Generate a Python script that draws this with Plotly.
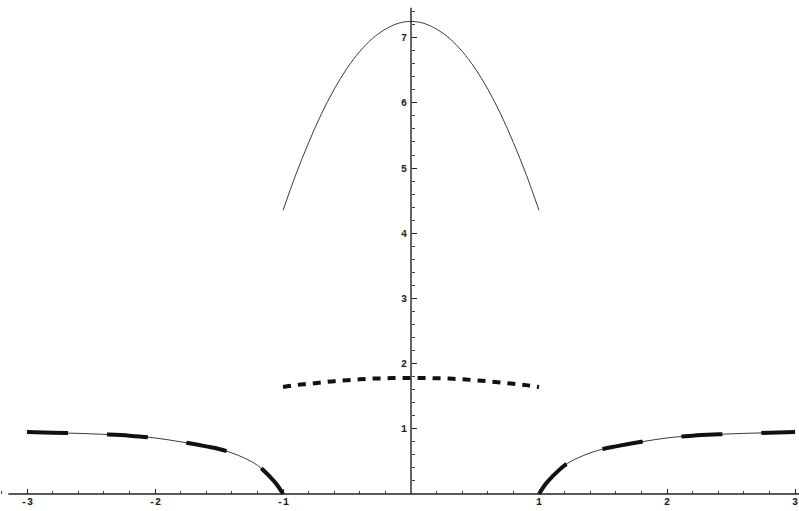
import plotly.graph_objects as go

# Inner branch on [-1, 1]: upper solid curve and lower dashed curve
x_inner = [-1.0, -0.9, -0.8, -0.7, -0.6, -0.5, -0.4, -0.3, -0.2, -0.1, 0.0,
           0.1, 0.2, 0.3, 0.4, 0.5, 0.6, 0.7, 0.8, 0.9, 1.0]
y_upper = [4.35, 4.90, 5.39, 5.83, 6.21, 6.53, 6.79, 6.99, 7.13, 7.22, 7.25,
           7.22, 7.13, 6.99, 6.79, 6.53, 6.21, 5.83, 5.39, 4.90, 4.35]
y_lower = [1.64, 1.67, 1.69, 1.71, 1.73, 1.745, 1.76, 1.77, 1.775, 1.78, 1.78,
           1.78, 1.775, 1.77, 1.76, 1.745, 1.73, 1.71, 1.69, 1.67, 1.64]

# Outer branches for |x| >= 1
x_right = [1.0, 1.05, 1.1, 1.2, 1.3, 1.4, 1.5, 1.6, 1.8, 2.0, 2.2, 2.4, 2.6, 2.8, 3.0]
y_right = [0.0, 0.15, 0.26, 0.44, 0.55, 0.63, 0.69, 0.73, 0.80, 0.86, 0.895,
           0.915, 0.93, 0.94, 0.95]
x_left = [-3.0, -2.8, -2.6, -2.4, -2.2, -2.0, -1.8, -1.6, -1.5, -1.4, -1.3,
          -1.2, -1.1, -1.05, -1.0]
y_left = [0.95, 0.94, 0.93, 0.915, 0.895, 0.86, 0.80, 0.73, 0.69, 0.63, 0.55,
          0.44, 0.26, 0.15, 0.0]

x_ticks = [-3, -2, -1, 1, 2, 3]
x_tick_text = ["-3", "-2", "-1", "1", "2", "3"]
y_ticks = [1, 2, 3, 4, 5, 6, 7]
y_tick_text = ["1", "2", "3", "4", "5", "6", "7"]

# Minor tick positions every 0.2, skipping the labelled integers
x_minor = [round(-3.2 + 0.2 * i, 1) for i in range(33) if abs(round(-3.2 + 0.2 * i, 1)) % 1 != 0]
y_minor = [round(0.2 * i, 1) for i in range(1, 38) if round(0.2 * i, 1) % 1 != 0]

thin = dict(color="#3a3a3a", width=1)
thick_long = dict(color="#111111", width=4, dash="41px,39px")
thick_short = dict(color="#111111", width=4, dash="8px,7px")

fig = go.Figure()
fig.add_trace(go.Scatter(x=x_inner, y=y_upper, mode="lines",
                         line=dict(shape="spline", **thin)))
fig.add_trace(go.Scatter(x=x_inner, y=y_lower, mode="lines",
                         line=dict(shape="spline", **thick_short)))
for xs, ys in ((x_left, y_left), (x_right, y_right)):
    fig.add_trace(go.Scatter(x=xs, y=ys, mode="lines",
                             line=dict(shape="spline", **thin)))
    fig.add_trace(go.Scatter(x=xs, y=ys, mode="lines",
                             line=dict(shape="spline", **thick_long)))

# Axis lines crossing at the origin
fig.add_shape(type="line", x0=-3.146, x1=3.031, y0=0, y1=0,
              line=dict(color="#222", width=1.4), layer="above")
fig.add_shape(type="line", x0=0, x1=0, y0=0, y1=7.46,
              line=dict(color="#222", width=1.4), layer="above")

tick_font = dict(family="Liberation Mono", size=10, color="#222", weight="bold")

fig.update_layout(
    width=799, height=511,
    margin=dict(l=0, r=0, t=0, b=0),
    paper_bgcolor="white", plot_bgcolor="white",
    showlegend=False,
    xaxis=dict(range=[-3.211, 3.031], anchor="free", position=17 / 511,
               showgrid=False, zeroline=False, showline=False,
               tickmode="array", tickvals=x_ticks, ticktext=x_tick_text,
               ticks="inside", ticklen=5, tickwidth=1.2, tickcolor="#222",
               tickfont=tick_font,
               minor=dict(tickmode="array", tickvals=x_minor, ticks="inside",
                          ticklen=3, tickwidth=1, tickcolor="#444")),
    yaxis=dict(range=[-0.261, 7.578], anchor="free", position=411 / 799,
               showgrid=False, zeroline=False, showline=False,
               tickmode="array", tickvals=y_ticks, ticktext=y_tick_text,
               ticks="inside", ticklen=5, tickwidth=1.2, tickcolor="#222",
               tickfont=tick_font, ticklabelstandoff=4,
               minor=dict(tickmode="array", tickvals=y_minor, ticks="inside",
                          ticklen=3, tickwidth=1, tickcolor="#444")),
)

fig.write_html("out.html")
